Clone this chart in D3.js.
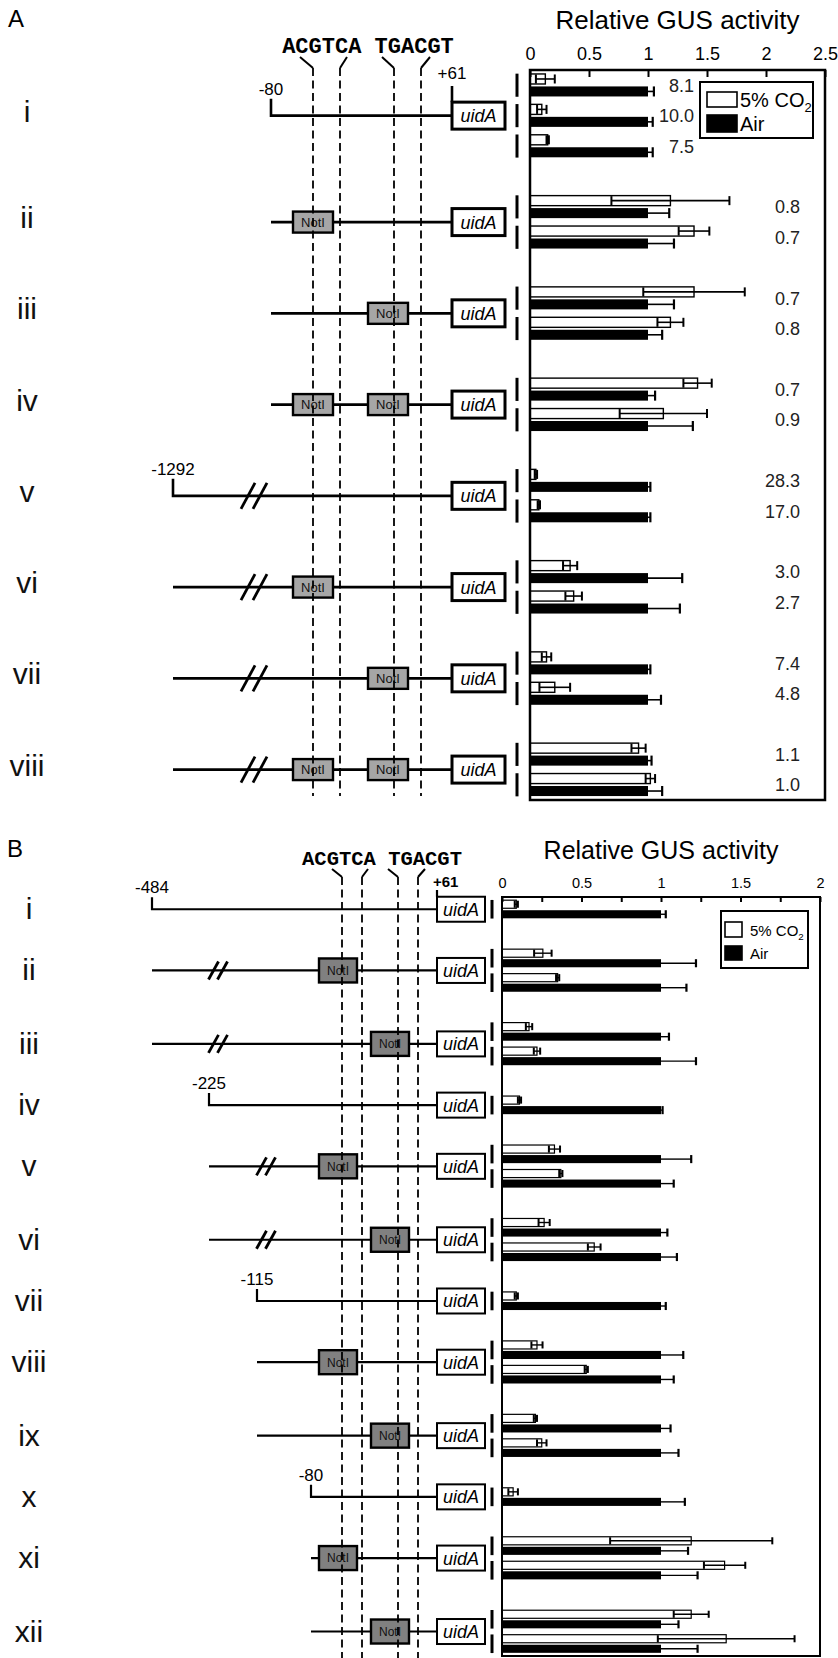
<!DOCTYPE html>
<html>
<head>
<meta charset="utf-8">
<script src="https://cdn.jsdelivr.net/npm/d3@7"></script>
<style>
  body { margin: 0; background: #fff; }
  svg { display: block; }
</style>
</head>
<body>
<div id="fig"></div>
<script>
// ---- data: panel A ----
const rowsA = ["i", "ii", "iii", "iv", "v", "vi", "vii", "viii"];
const co2A = [[0.13, 0.10, 0.15], [1.19, 1.39], [1.39, 1.19], [1.42, 1.13], [0.05, 0.075], [0.34, 0.37], [0.14, 0.21], [0.92, 1.02]];
const co2ErrA = [[0.08, 0.04, 0.01], [0.50, 0.13], [0.43, 0.11], [0.12, 0.37], [0.01, 0.01], [0.06, 0.07], [0.04, 0.13], [0.06, 0.04]];
const airA = [[1, 1, 1], [1, 1], [1, 1], [1, 1], [1, 1], [1, 1], [1, 1], [1, 1]];
const airErrA = [[0.05, 0.04, 0.04], [0.18, 0.22], [0.22, 0.12], [0.06, 0.38], [0.02, 0.02], [0.29, 0.27], [0.02, 0.11], [0.03, 0.12]];
const foldA = [["8.1", "10.0", "7.5"], ["0.8", "0.7"], ["0.7", "0.8"], ["0.7", "0.9"], ["28.3", "17.0"], ["3.0", "2.7"], ["7.4", "4.8"], ["1.1", "1.0"]];
const startA = ["-80", null, null, null, "-1292", null, null, null];
const levelA = [1, 1, 1, 1, 0, 0, 0, 0];
const breakA = [false, false, false, false, true, true, true, true];
const notIA = [[], [0], [1], [0, 1], [], [0], [1], [0, 1]];
const ticksA = [0, 0.5, 1, 1.5, 2, 2.5];
const tickLabelsA = ["0", "0.5", "1", "1.5", "2", "2.5"];

// ---- data: panel B ----
const rowsB = ["i", "ii", "iii", "iv", "v", "vi", "vii", "viii", "ix", "x", "xi", "xii"];
const co2B = [[0.09], [0.257, 0.35], [0.17, 0.22], [0.11], [0.33, 0.37], [0.265, 0.58], [0.09], [0.22, 0.53], [0.21, 0.25], [0.07], [1.19, 1.40], [1.19, 1.41]];
const co2ErrB = [[0.01], [0.055, 0.01], [0.02, 0.02], [0.01], [0.035, 0.01], [0.035, 0.04], [0.01], [0.035, 0.01], [0.01, 0.03], [0.03], [0.51, 0.13], [0.11, 0.43]];
const airB = [[1], [1, 1], [1, 1], [1], [1, 1], [1, 1], [1], [1, 1], [1, 1], [1], [1, 1], [1, 1]];
const airErrB = [[0.03], [0.22, 0.16], [0.05, 0.22], [0.01], [0.19, 0.08], [0.04, 0.10], [0.03], [0.14, 0.08], [0.06, 0.11], [0.15], [0.17, 0.23], [0.11, 0.23]];
const startB = ["-484", null, null, "-225", null, null, "-115", null, null, "-80", null, null];
const levelB = [0, 0, 0, 1, 1, 1, 2, 2, 2, 3, 3, 3];
const breakB = [false, true, true, false, true, true, false, false, false, false, false, false];
const notIB = [[], [0], [1], [], [0], [1], [], [0], [1], [], [0], [1]];
const ticksB = [0, 0.25, 0.5, 0.75, 1, 1.25, 1.5, 1.75, 2];
const tickLabelsB = ["0", "", "0.5", "", "1", "", "1.5", "", "2"];

const seriesNames = ["5% CO2", "Air"];
const motif = "ACGTCA TGACGT";
const axisTitle = "Relative GUS activity";

const FONT = "'Liberation Sans', Arial, Helvetica, sans-serif";
const MONO = "'Liberation Mono', 'Courier New', monospace";

const svg = d3.select("#fig").append("svg")
  .attr("width", 838)
  .attr("height", 1658)
  .attr("font-family", FONT);

// pair slots: one unit per bar pair, one unit gap between constructs
const slots = counts => {
  let u = 0;
  const pos = counts.map((n, i) => {
    if (i > 0) u += 1;
    const p = d3.range(n).map(k => u + k + 0.5);
    u += n;
    return p;
  });
  return { pos: pos, total: u };
};

const layoutA = {
  panel: ["A", 8, 27],
  xRange: [530, 825], yRange: [70, 800], xDomain: [0, 2.5],
  titleY: 29, titleSize: 26,
  tickLen: 7, tickPad: 10, tickSize: 18, frameW: 2.5,
  barStroke: 1.4, errW: 1.6,
  markerX: 517,
  foldX: [694, 800], foldSize: 18,
  rowLabelX: 27, rowLabelDy: 6, rowLabelSize: 30,
  startX: [173, 271], breakX: [254], slash: [6, 7, 13],
  tickH: 17, startLabelSize: 17,
  notI: [313, 388], notIW: 40, notIH: 21, notIFill: "#a6a6a6", notISize: 13,
  uid: [452, 505], uidH: 27, uidSize: 18, uidStroke: 3,
  lineW: 2.6,
  dashX: [313, 340, 394, 421], dashTop: 68, dashBottom: 796, dashOver: false,
  slantDx: [-13, 7, -12, 9], slantTop: 57,
  motifX: 368, motifY: 53, motifSize: 22,
  plus61: { x: 452, anchor: "middle", y: 79, tickTop: 86, weight: "normal", size: 17 },
  legend: { x: 700, y: 82, w: 113, h: 56, sx: 707, sw: 30, sy: [92, 115], sh: [15, 17], tx: 740, ty: [107, 131], size: 20 }
};

const layoutB = {
  panel: ["B", 7, 857],
  xRange: [502, 820], yRange: [897, 1656], xDomain: [0, 2],
  titleY: 859, titleSize: 25,
  tickLen: 5, tickPad: 9, tickSize: 14.5, frameW: 2,
  barStroke: 1.2, errW: 1.4,
  markerX: 492,
  foldX: null, foldSize: 0,
  rowLabelX: 29, rowLabelDy: 10, rowLabelSize: 30,
  startX: [152, 209, 257, 311], breakX: [218, 266], slash: [4.5, 5, 9],
  tickH: 12, startLabelSize: 17,
  notI: [338, 390], notIW: 38, notIH: 24, notIFill: "#808080", notISize: 12,
  uid: [437, 485], uidH: 25, uidSize: 18, uidStroke: 2,
  lineW: 2.2,
  dashX: [342, 362, 398, 418], dashTop: 877, dashBottom: 1658, dashOver: true,
  slantDx: [-10, 6, -10, 7], slantTop: 869,
  motifX: 382, motifY: 865, motifSize: 20.5,
  plus61: { x: 433, anchor: "start", y: 887, tickTop: 890, weight: "bold", size: 15 },
  legend: { x: 721, y: 911, w: 87, h: 57, sx: 725, sw: 17, sy: [922, 946], sh: [15, 14], tx: 750, ty: [936, 959], size: 15 }
};

function drawPanel(D, L) {
  const g = svg.append("g");
  const lay = slots(D.co2.map(v => v.length));
  const x = d3.scaleLinear().domain(L.xDomain).range(L.xRange);
  const y = d3.scaleLinear().domain([0, lay.total]).range(L.yRange);
  const centers = lay.pos.map(p => d3.mean(p));

  // panel letter and title
  g.append("text").attr("x", L.panel[1]).attr("y", L.panel[2])
    .attr("font-size", 24).text(L.panel[0]);
  g.append("text")
    .attr("x", d3.mean(L.xRange)).attr("y", L.titleY)
    .attr("text-anchor", "middle").attr("font-size", L.titleSize)
    .text(axisTitle);

  // ---------- schematic ----------
  const sg = g.append("g");
  const dashG = g.append("g");

  const drawDashes = () => {
    L.dashX.forEach((dx, k) => {
      dashG.append("line")
        .attr("x1", dx + L.slantDx[k]).attr("y1", L.slantTop)
        .attr("x2", dx).attr("y2", L.dashTop)
        .attr("stroke", "#000").attr("stroke-width", 2);
      dashG.append("line")
        .attr("x1", dx).attr("x2", dx)
        .attr("y1", L.dashTop).attr("y2", L.dashBottom)
        .attr("stroke", "#000").attr("stroke-width", 1.8)
        .attr("stroke-dasharray", "8,4.5");
    });
  };

  g.append("text")
    .attr("x", L.motifX).attr("y", L.motifY)
    .attr("text-anchor", "middle")
    .attr("font-family", MONO).attr("font-weight", "bold")
    .attr("font-size", L.motifSize)
    .text(motif);

  D.rows.forEach((r, i) => {
    const cy = y(centers[i]);
    const sx = L.startX[D.level[i]];

    sg.append("text")
      .attr("x", L.rowLabelX).attr("y", cy + L.rowLabelDy)
      .attr("text-anchor", "middle").attr("font-size", L.rowLabelSize)
      .attr("fill", "#111")
      .text(r);

    const path = D.start[i]
      ? `M${sx},${cy - L.tickH}V${cy}H${L.uid[0]}`
      : `M${sx},${cy}H${L.uid[0]}`;
    sg.append("path").attr("d", path)
      .attr("fill", "none").attr("stroke", "#000")
      .attr("stroke-width", L.lineW).attr("stroke-linejoin", "miter");

    if (D.start[i]) {
      sg.append("text")
        .attr("x", sx).attr("y", cy - L.tickH - 4)
        .attr("text-anchor", "middle").attr("font-size", L.startLabelSize)
        .text(D.start[i]);
    }

    if (D.breaks[i]) {
      const bx = L.breakX[D.level[i]];
      const [off, sdx, sdy] = L.slash;
      [-off, off].forEach(o => {
        sg.append("line")
          .attr("x1", bx + o - sdx).attr("y1", cy + sdy)
          .attr("x2", bx + o + sdx).attr("y2", cy - sdy)
          .attr("stroke", "#000").attr("stroke-width", 2.8);
      });
    }

    D.notI[i].forEach(k => {
      const nx = L.notI[k];
      sg.append("rect")
        .attr("x", nx - L.notIW / 2).attr("y", cy - L.notIH / 2)
        .attr("width", L.notIW).attr("height", L.notIH)
        .attr("fill", L.notIFill).attr("stroke", "#000").attr("stroke-width", 2.4);
      sg.append("text")
        .attr("x", nx).attr("y", cy + L.notISize * 0.36)
        .attr("text-anchor", "middle").attr("font-size", L.notISize)
        .attr("fill", "#111")
        .text("NotI");
    });

    sg.append("rect")
      .attr("x", L.uid[0]).attr("y", cy - L.uidH / 2)
      .attr("width", L.uid[1] - L.uid[0]).attr("height", L.uidH)
      .attr("fill", "#fff").attr("stroke", "#000").attr("stroke-width", L.uidStroke);
    sg.append("text")
      .attr("x", d3.mean(L.uid)).attr("y", cy + L.uidSize * 0.36)
      .attr("text-anchor", "middle").attr("font-style", "italic")
      .attr("font-size", L.uidSize)
      .text("uidA");

    if (i === 0) {
      const p = L.plus61;
      sg.append("line")
        .attr("x1", L.uid[0]).attr("x2", L.uid[0])
        .attr("y1", p.tickTop).attr("y2", cy - L.uidH / 2)
        .attr("stroke", "#000").attr("stroke-width", L.lineW);
      sg.append("text")
        .attr("x", p.x).attr("y", p.y)
        .attr("text-anchor", p.anchor).attr("font-weight", p.weight)
        .attr("font-size", p.size)
        .text("+61");
    }
  });

  if (L.dashOver) dashG.raise();
  drawDashes();

  // ---------- bar chart ----------
  const bars = [];
  D.rows.forEach((r, i) => lay.pos[i].forEach((u, k) => bars.push({
    row: i, k: k, u: u,
    co2: D.co2[i][k], co2Err: D.co2Err[i][k],
    air: D.air[i][k], airErr: D.airErr[i][k],
    fold: D.fold ? D.fold[i][k] : null
  })));

  const bh = d => y(d.u - 0.04) - y(d.u - 0.37);
  const bg = g.append("g");

  // pair markers left of the axis
  bg.selectAll("line.marker").data(bars).join("line")
    .attr("class", "marker")
    .attr("x1", L.markerX).attr("x2", L.markerX)
    .attr("y1", d => y(d.u - 0.38)).attr("y2", d => y(d.u + 0.38))
    .attr("stroke", "#000").attr("stroke-width", 3);

  bg.selectAll("rect.co2").data(bars).join("rect")
    .attr("class", "co2")
    .attr("x", x(0)).attr("y", d => y(d.u - 0.37))
    .attr("width", d => x(d.co2) - x(0)).attr("height", bh)
    .attr("fill", "#fff").attr("stroke", "#000").attr("stroke-width", L.barStroke);

  bg.selectAll("rect.air").data(bars).join("rect")
    .attr("class", "air")
    .attr("x", x(0)).attr("y", d => y(d.u + 0.04))
    .attr("width", d => x(d.air) - x(0)).attr("height", bh)
    .attr("fill", "#000");

  // error bars
  const eg = bg.append("g").attr("stroke", "#000");
  bars.forEach(d => {
    const h = bh(d) / 2;
    const yc = y(d.u - 0.205);
    const lo = x(d.co2 - d.co2Err), hi = x(d.co2 + d.co2Err);
    eg.append("line").attr("x1", lo).attr("x2", hi).attr("y1", yc).attr("y2", yc)
      .attr("stroke-width", L.errW);
    [lo, hi].forEach(xx => eg.append("line")
      .attr("x1", xx).attr("x2", xx).attr("y1", yc - h + 0.5).attr("y2", yc + h - 0.5)
      .attr("stroke-width", 2));
    const yb = y(d.u + 0.205);
    const ahi = x(d.air + d.airErr);
    eg.append("line").attr("x1", x(d.air)).attr("x2", ahi).attr("y1", yb).attr("y2", yb)
      .attr("stroke-width", L.errW);
    eg.append("line").attr("x1", ahi).attr("x2", ahi).attr("y1", yb - h).attr("y2", yb + h)
      .attr("stroke-width", 2.2);
  });

  // fold change labels
  if (D.fold) {
    bg.selectAll("text.fold").data(bars).join("text")
      .attr("class", "fold")
      .attr("x", d => d.row === 0 ? L.foldX[0] : L.foldX[1])
      .attr("y", d => y(d.u) + 6.5)
      .attr("text-anchor", "end").attr("font-size", L.foldSize)
      .attr("fill", "#222")
      .text(d => d.fold);
  }

  // axis on top, ticks pointing inwards
  const axis = d3.axisTop(x)
    .tickValues(D.ticks)
    .tickSize(-L.tickLen)
    .tickPadding(L.tickPad)
    .tickFormat((d, i) => D.tickLabels[i]);
  g.append("g")
    .attr("transform", `translate(0,${L.yRange[0]})`)
    .call(axis)
    .call(a => a.select(".domain").remove())
    .call(a => a.selectAll("line").attr("stroke-width", 2))
    .attr("font-size", L.tickSize)
    .attr("font-family", FONT);

  g.append("rect")
    .attr("x", L.xRange[0]).attr("y", L.yRange[0])
    .attr("width", L.xRange[1] - L.xRange[0]).attr("height", L.yRange[1] - L.yRange[0])
    .attr("fill", "none").attr("stroke", "#000").attr("stroke-width", L.frameW);

  // legend
  const lg = L.legend;
  const leg = g.append("g");
  leg.append("rect").attr("x", lg.x).attr("y", lg.y).attr("width", lg.w).attr("height", lg.h)
    .attr("fill", "#fff").attr("stroke", "#000").attr("stroke-width", 2);
  seriesNames.forEach((name, k) => {
    leg.append("rect")
      .attr("x", lg.sx).attr("y", lg.sy[k]).attr("width", lg.sw).attr("height", lg.sh[k])
      .attr("fill", k === 0 ? "#fff" : "#000").attr("stroke", "#000").attr("stroke-width", 1.6);
    const t = leg.append("text").attr("x", lg.tx).attr("y", lg.ty[k]).attr("font-size", lg.size);
    const m = name.match(/^(.*CO)(2)$/);
    if (m) {
      t.append("tspan").text(m[1]);
      t.append("tspan").attr("font-size", lg.size * 0.65).attr("dy", lg.size * 0.25).text(m[2]);
    } else {
      t.text(name);
    }
  });
}

drawPanel({
  rows: rowsA, co2: co2A, co2Err: co2ErrA, air: airA, airErr: airErrA, fold: foldA,
  start: startA, level: levelA, breaks: breakA, notI: notIA,
  ticks: ticksA, tickLabels: tickLabelsA
}, layoutA);

drawPanel({
  rows: rowsB, co2: co2B, co2Err: co2ErrB, air: airB, airErr: airErrB, fold: null,
  start: startB, level: levelB, breaks: breakB, notI: notIB,
  ticks: ticksB, tickLabels: tickLabelsB
}, layoutB);
</script>
</body>
</html>
